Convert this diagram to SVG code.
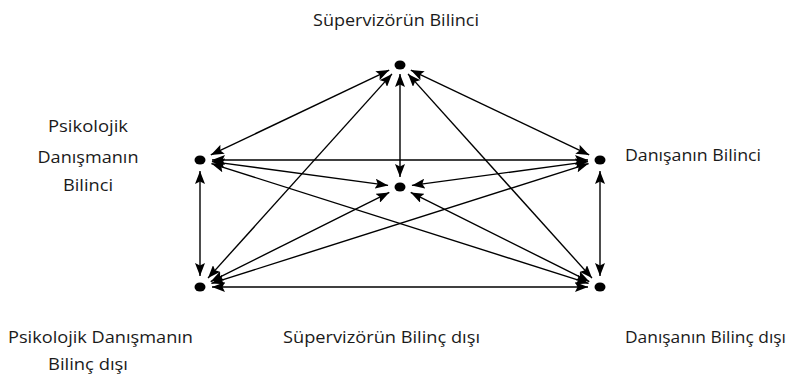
<svg xmlns="http://www.w3.org/2000/svg" width="789" height="376" viewBox="0 0 789 376">
<style>
.lbl{font-family:"Open Sans","Liberation Sans",sans-serif;font-size:17px;fill:#1a1a1a;}
.dot{fill:#000;}
.edge{stroke:#000;stroke-width:1.4;fill:none;marker-start:url(#ah);marker-end:url(#ah);}
</style>
<defs>
<marker id="ah" markerUnits="userSpaceOnUse" markerWidth="14" markerHeight="10" refX="13" refY="5" orient="auto-start-reverse" viewBox="0 0 14 10">
<path d="M0,0 L13,5 L0,10 L2.5,5 z" fill="#000"/>
</marker>
</defs>
<rect width="789" height="376" fill="#fff"/>
<g id="connectors">
<line class="edge" x1="389.2" y1="70.1" x2="210.8" y2="154.9"/>
<line class="edge" x1="410.8" y1="70.1" x2="589.2" y2="154.9"/>
<line class="edge" x1="400" y1="74" x2="400" y2="177"/>
<line class="edge" x1="392" y1="73.9" x2="208" y2="278.1"/>
<line class="edge" x1="408" y1="73.9" x2="592" y2="278.1"/>
<line class="edge" x1="212" y1="160" x2="588" y2="160"/>
<line class="edge" x1="211.9" y1="161.6" x2="388.1" y2="185.4"/>
<line class="edge" x1="588.1" y1="161.6" x2="411.9" y2="185.4"/>
<line class="edge" x1="200" y1="171" x2="200" y2="276"/>
<line class="edge" x1="600" y1="171" x2="600" y2="276"/>
<line class="edge" x1="211.4" y1="163.6" x2="588.6" y2="283.4"/>
<line class="edge" x1="588.6" y1="163.6" x2="211.4" y2="283.4"/>
<line class="edge" x1="389.3" y1="192.4" x2="210.7" y2="281.6"/>
<line class="edge" x1="410.7" y1="192.4" x2="589.3" y2="281.6"/>
<line class="edge" x1="212" y1="287" x2="588" y2="287"/>
</g>
<g id="supervizor-bilinci">
<ellipse class="dot" cx="400" cy="65" rx="5.5" ry="4.5"/>
<text class="lbl" x="313" y="26" textLength="166" lengthAdjust="spacingAndGlyphs">Süpervizörün Bilinci</text>
</g>
<g id="danisman-bilinci">
<ellipse class="dot" cx="200" cy="160" rx="5.5" ry="4.5"/>
<text class="lbl" x="88" y="132" text-anchor="middle" textLength="80" lengthAdjust="spacingAndGlyphs">Psikolojik</text>
<text class="lbl" x="88" y="163" text-anchor="middle" textLength="101" lengthAdjust="spacingAndGlyphs">Danışmanın</text>
<text class="lbl" x="88" y="191" text-anchor="middle" textLength="50" lengthAdjust="spacingAndGlyphs">Bilinci</text>
</g>
<g id="danisan-bilinci">
<ellipse class="dot" cx="600" cy="160" rx="5.5" ry="4.5"/>
<text class="lbl" x="625" y="161" textLength="136" lengthAdjust="spacingAndGlyphs">Danışanın Bilinci</text>
</g>
<g id="supervizor-bilinc-disi">
<ellipse class="dot" cx="400" cy="187" rx="5.5" ry="4.5"/>
<text class="lbl" x="283" y="343" textLength="197" lengthAdjust="spacingAndGlyphs">Süpervizörün Bilinç dışı</text>
</g>
<g id="danisman-bilinc-disi">
<ellipse class="dot" cx="200" cy="287" rx="5.5" ry="4.5"/>
<text class="lbl" x="8" y="343" textLength="185" lengthAdjust="spacingAndGlyphs">Psikolojik Danışmanın</text>
<text class="lbl" x="48" y="370" textLength="80" lengthAdjust="spacingAndGlyphs">Bilinç dışı</text>
</g>
<g id="danisan-bilinc-disi">
<ellipse class="dot" cx="600" cy="287" rx="5.5" ry="4.5"/>
<text class="lbl" x="625" y="343" textLength="161" lengthAdjust="spacingAndGlyphs">Danışanın Bilinç dışı</text>
</g>
</svg>
